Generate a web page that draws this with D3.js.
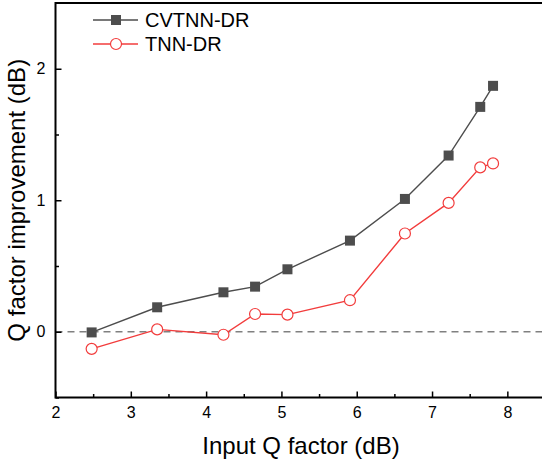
<!DOCTYPE html>
<html>
<head>
<meta charset="utf-8">
<script src="https://cdn.jsdelivr.net/npm/d3@7"></script>
<style>
  body { margin: 0; background: #fff; }
  text { font-family: "Liberation Sans", Arial, sans-serif; }
</style>
</head>
<body>
<div id="chart"></div>
<script>
// values
const inputQ = [2.48, 3.35, 4.23, 4.65, 5.08, 5.91, 6.64, 7.22, 7.64, 7.81];
const cvtnnGain = [-0.005, 0.186, 0.30, 0.343, 0.475, 0.693, 1.01, 1.34, 1.71, 1.87];
const tnnGain = [-0.13, 0.018, -0.023, 0.135, 0.13, 0.24, 0.747, 0.98, 1.25, 1.28];
const xTicks = [2, 3, 4, 5, 6, 7, 8];
const yTicks = [0, 1, 2];

const width = 542, height = 461;
const margin = {left: 55.5, top: 3, right: -3, bottom: 63.5};

const svg = d3.select("#chart").append("svg")
    .attr("width", width)
    .attr("height", height);

const x = d3.scaleLinear()
    .domain([2, 8.5])
    .range([margin.left, width - margin.right]);

const y = d3.scaleLinear()
    .domain([-0.5, 2.5])
    .range([height - margin.bottom, margin.top]);

const plotW = x.range()[1] - x.range()[0];
const plotH = y.range()[0] - y.range()[1];

// zero reference line
svg.append("line")
    .attr("x1", x(2)).attr("x2", x(8.5))
    .attr("y1", y(0)).attr("y2", y(0))
    .attr("stroke", "#808080")
    .attr("stroke-width", 1.3)
    .attr("stroke-dasharray", "7,5");

// frame
svg.append("rect")
    .attr("x", margin.left).attr("y", margin.top)
    .attr("width", plotW).attr("height", plotH)
    .attr("fill", "none")
    .attr("stroke", "#000")
    .attr("stroke-width", 2);

// axes with inward ticks
svg.append("g")
    .attr("transform", `translate(0,${y.range()[0]})`)
    .call(d3.axisBottom(x).tickValues(xTicks).tickFormat(d3.format("d")).tickSize(-6).tickPadding(9.5));
svg.append("g")
    .attr("transform", `translate(0,${y.range()[0]})`)
    .call(d3.axisBottom(x).tickValues(d3.range(2.5, 8.5, 1)).tickFormat("").tickSize(-3.5));

svg.append("g")
    .attr("transform", `translate(${margin.left},0)`)
    .call(d3.axisLeft(y).tickValues(yTicks).tickFormat(d3.format("d")).tickSize(-6).tickPadding(10));
svg.append("g")
    .attr("transform", `translate(${margin.left},0)`)
    .call(d3.axisLeft(y).tickValues([-0.5, 0.5, 1.5]).tickFormat("").tickSize(-3.5));

svg.selectAll(".domain").remove();
svg.selectAll(".tick line").attr("stroke", "#000").attr("stroke-width", 1.5);
svg.selectAll(".tick text")
    .style("font-size", "16px")
    .style("font-family", "'Liberation Sans', Arial, sans-serif")
    .attr("fill", "#000");

// axis titles
svg.append("text")
    .attr("x", 301).attr("y", 454)
    .attr("text-anchor", "middle")
    .attr("font-size", 24)
    .text("Input Q factor (dB)");

svg.append("text")
    .attr("transform", `translate(25,${(y.range()[0] + y.range()[1]) / 2}) rotate(-90)`)
    .attr("text-anchor", "middle")
    .attr("font-size", 24)
    .text("Q factor improvement (dB)");

const line = d3.line().x(d => x(d[0])).y(d => y(d[1]));
const cvData = inputQ.map((q, i) => [q, cvtnnGain[i]]);
const tnnData = inputQ.map((q, i) => [q, tnnGain[i]]);

const grey = "#4d4d4d", red = "#f23c3c";

svg.append("path").datum(cvData)
    .attr("d", line).attr("fill", "none")
    .attr("stroke", grey).attr("stroke-width", 1.4);
svg.append("path").datum(tnnData)
    .attr("d", line).attr("fill", "none")
    .attr("stroke", red).attr("stroke-width", 1.4);

svg.append("g").selectAll("rect")
    .data(cvData).enter().append("rect")
    .attr("x", d => x(d[0]) - 5)
    .attr("y", d => y(d[1]) - 5)
    .attr("width", 10).attr("height", 10)
    .attr("fill", grey);

svg.append("g").selectAll("circle")
    .data(tnnData).enter().append("circle")
    .attr("cx", d => x(d[0]))
    .attr("cy", d => y(d[1]))
    .attr("r", 5.5)
    .attr("fill", "#fff")
    .attr("stroke", red).attr("stroke-width", 1.2);

// legend
const legend = svg.append("g");
const rows = [{name: "CVTNN-DR", color: grey, y: 20}, {name: "TNN-DR", color: red, y: 44}];
rows.forEach(r => {
    legend.append("line")
        .attr("x1", 93).attr("x2", 138)
        .attr("y1", r.y).attr("y2", r.y)
        .attr("stroke", r.color).attr("stroke-width", 1.4);
    if (r.name === "CVTNN-DR") {
        legend.append("rect")
            .attr("x", 111).attr("y", r.y - 5)
            .attr("width", 10).attr("height", 10)
            .attr("fill", grey);
    } else {
        legend.append("circle")
            .attr("cx", 116).attr("cy", r.y).attr("r", 5.5)
            .attr("fill", "#fff").attr("stroke", red).attr("stroke-width", 1.2);
    }
    legend.append("text")
        .attr("x", 145).attr("y", r.y + 7)
        .attr("font-size", 20)
        .text(r.name);
});
</script>
</body>
</html>
